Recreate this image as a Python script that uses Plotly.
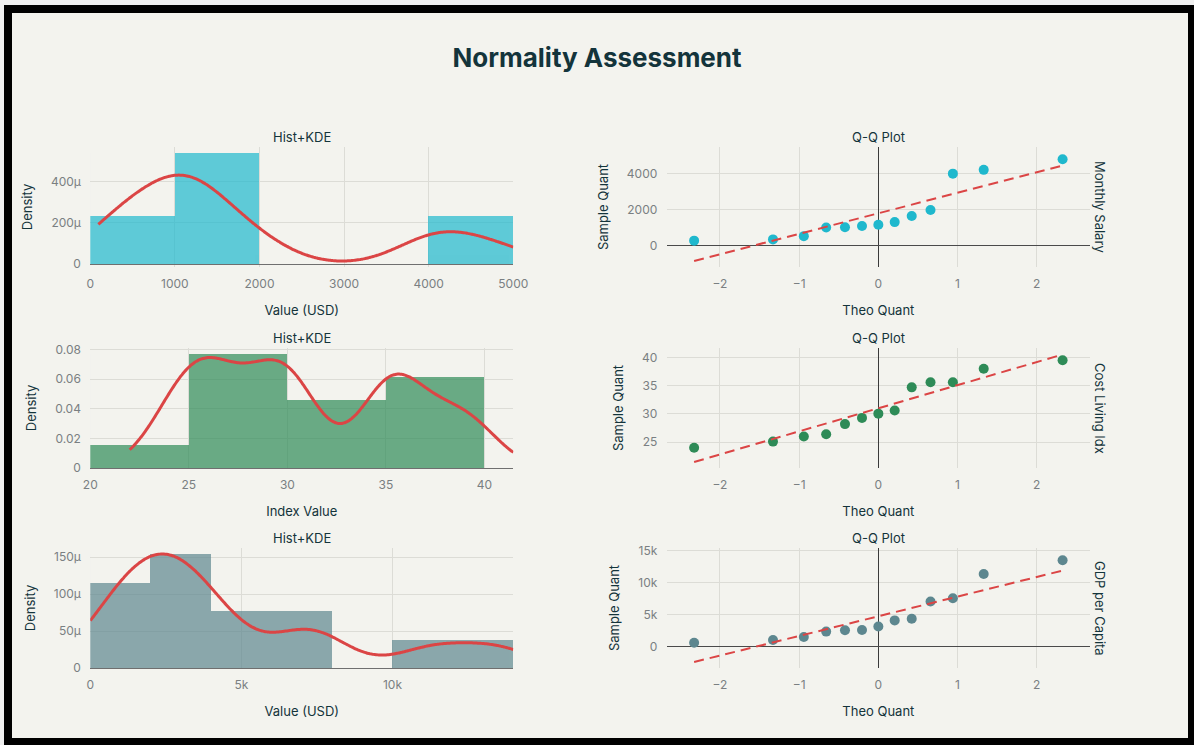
import numpy as np
import plotly.graph_objects as go

# ---------------- data ----------------
# theoretical normal quantiles shared by every Q-Q panel (13 points)
theo_quant = [-2.3263, -1.3303, -0.9409, -0.6588, -0.4214, -0.2063, 0.0,
              0.2063, 0.4214, 0.6588, 0.9409, 1.3303, 2.3263]

monthly_salary = [280, 350, 530, 1010, 1020, 1090, 1160, 1310, 1650, 1980,
                  4000, 4210, 4800]
cost_living_idx = [24.0, 25.1, 26.0, 26.4, 28.2, 29.3, 30.05, 30.6, 34.7,
                   35.6, 35.6, 38.0, 39.5]
gdp_per_capita = [550, 1000, 1450, 2300, 2500, 2550, 3100, 4050, 4300, 7000,
                  7500, 11300, 13450]

series_names = ["Monthly Salary", "Cost Living Idx", "GDP per Capita"]
x_titles = ["Value (USD)", "Index Value", "Value (USD)"]
bin_start = [0, 20, 0]
bin_size = [1000, 5, 2000]
kde_from = [95, 22, 0]
kde_to = [5000, 41.46, 14000]
kde_bw = 0.3  # bandwidth factor (multiplies sample std)

# ---------------- style ----------------
W, H = 1194, 745
BG = "#F3F3EE"
DARK = "#13343B"
TICK = "#7A7F82"
GRID = "#DCDCD6"
RED = "#DB4545"
series_colors = ["#1FB8CD", "#2E8B57", "#5D878F"]
FONT = "Inter, Roboto, sans-serif"

col_px = [(90.3, 513.3), (666.7, 1090.0)]
row_px = [(147, 267), (348, 468), (548, 668)]


def fx(p):
    return p / W


def fy(p):
    return 1 - p / H


def gaussian_kde(values, grid, factor):
    v = np.asarray(values, dtype=float)
    h = factor * v.std(ddof=1)
    z = (grid[:, None] - v[None, :]) / h
    return np.exp(-0.5 * z ** 2).sum(axis=1) / (len(v) * h * np.sqrt(2 * np.pi))


datasets = [monthly_salary, cost_living_idx, gdp_per_capita]

fig = go.Figure()
layout_axes = {}
annotations = []

for r, data in enumerate(datasets):
    color = series_colors[r]
    hx, hy = 2 * r + 1, 2 * r + 1
    qx, qy = 2 * r + 2, 2 * r + 2
    hxs = "x" if hx == 1 else f"x{hx}"
    hys = "y" if hy == 1 else f"y{hy}"
    qxs, qys = f"x{qx}", f"y{qy}"

    # histogram (density normalised)
    fig.add_trace(go.Histogram(
        x=data, histnorm="probability density",
        xbins=dict(start=bin_start[r], size=bin_size[r]),
        marker=dict(color=color, line=dict(width=0)),
        opacity=0.7, xaxis=hxs, yaxis=hys, showlegend=False,
    ))

    # kernel density estimate
    grid = np.linspace(kde_from[r], kde_to[r], 300)
    fig.add_trace(go.Scatter(
        x=grid, y=gaussian_kde(data, grid, kde_bw), mode="lines",
        line=dict(color=RED, width=3, shape="spline"),
        xaxis=hxs, yaxis=hys, showlegend=False,
    ))

    # Q-Q points
    sample = np.sort(np.asarray(data, dtype=float))
    fig.add_trace(go.Scatter(
        x=theo_quant, y=sample, mode="markers",
        marker=dict(color=color, size=10),
        xaxis=qxs, yaxis=qys, showlegend=False,
    ))

    # least-squares reference line
    slope, intercept = np.polyfit(theo_quant, sample, 1)
    ends = np.array([theo_quant[0], theo_quant[-1]])
    fig.add_trace(go.Scatter(
        x=ends, y=slope * ends + intercept, mode="lines",
        line=dict(color=RED, width=2, dash="10px,6px"),
        xaxis=qxs, yaxis=qys, showlegend=False,
    ))

    top, bot = row_px[r]
    ydom = [fy(bot), fy(top)]
    common = dict(
        showgrid=True, gridcolor=GRID, gridwidth=1, showline=False,
        automargin=False,
        ticks="outside", ticklen=6, tickcolor="rgba(0,0,0,0)",
        tickfont=dict(family=FONT, size=12, color=TICK),
        title_font=dict(family=FONT, size=13, color=DARK),
    )
    layout_axes["xaxis" if hx == 1 else f"xaxis{hx}"] = dict(
        domain=[fx(col_px[0][0]), fx(col_px[0][1])], anchor=hys,
        title_text=x_titles[r], zeroline=False, **common)
    layout_axes["yaxis" if hy == 1 else f"yaxis{hy}"] = dict(
        domain=ydom, anchor=hxs, title_text="Density",
        zeroline=True, zerolinecolor="#6F6F6F", zerolinewidth=1, **common)
    layout_axes[f"xaxis{qx}"] = dict(
        domain=[fx(col_px[1][0]), fx(col_px[1][1])], anchor=qys,
        title_text="Theo Quant", zeroline=True, zerolinecolor="#3A3A3A",
        zerolinewidth=1, **common)
    layout_axes[f"yaxis{qy}"] = dict(
        domain=ydom, anchor=qxs, title_text="Sample Quant",
        zeroline=True, zerolinecolor="#4A4A4A", zerolinewidth=1, **common)

    # panel titles
    for cx, label in ((col_px[0], "Hist+KDE"), (col_px[1], "Q-Q Plot")):
        annotations.append(dict(
            text=label, x=fx((cx[0] + cx[1]) / 2), y=fy(top),
            xref="paper", yref="paper", xanchor="center", yanchor="bottom",
            showarrow=False, font=dict(family=FONT, size=13, color=DARK),
        ))
    # row label on the right
    annotations.append(dict(
        text=series_names[r], x=fx(col_px[1][1]), y=fy((top + bot) / 2),
        xref="paper", yref="paper", xanchor="left", yanchor="middle",
        textangle=90, showarrow=False,
        font=dict(family=FONT, size=13, color=DARK),
    ))

# dtick tuning for the histogram x axes
layout_axes["xaxis"]["dtick"] = 1000
layout_axes["xaxis3"]["dtick"] = 5
layout_axes["xaxis5"]["dtick"] = 5000

fig.update_layout(
    width=W, height=H,
    margin=dict(l=0, r=0, t=0, b=0, pad=0, autoexpand=False),
    paper_bgcolor="#EFEFEF",
    plot_bgcolor="rgba(0,0,0,0)",
    font=dict(family=FONT, color=DARK),
    title=dict(text="<b>Normality Assessment</b>", x=0.5, xanchor="center",
               y=fy(58), yanchor="middle",
               font=dict(family=FONT, size=26, color=DARK)),
    annotations=annotations,
    bargap=0,
    shapes=[
        dict(type="rect", xref="paper", yref="paper", layer="below",
             x0=fx(4), x1=fx(W), y0=fy(H), y1=fy(5),
             fillcolor="#000000", line=dict(width=0)),
        dict(type="rect", xref="paper", yref="paper", layer="below",
             x0=fx(12), x1=fx(1188), y0=fy(738), y1=fy(13),
             fillcolor=BG, line=dict(width=0)),
    ],
    **layout_axes,
)

fig.write_html("out.html")
